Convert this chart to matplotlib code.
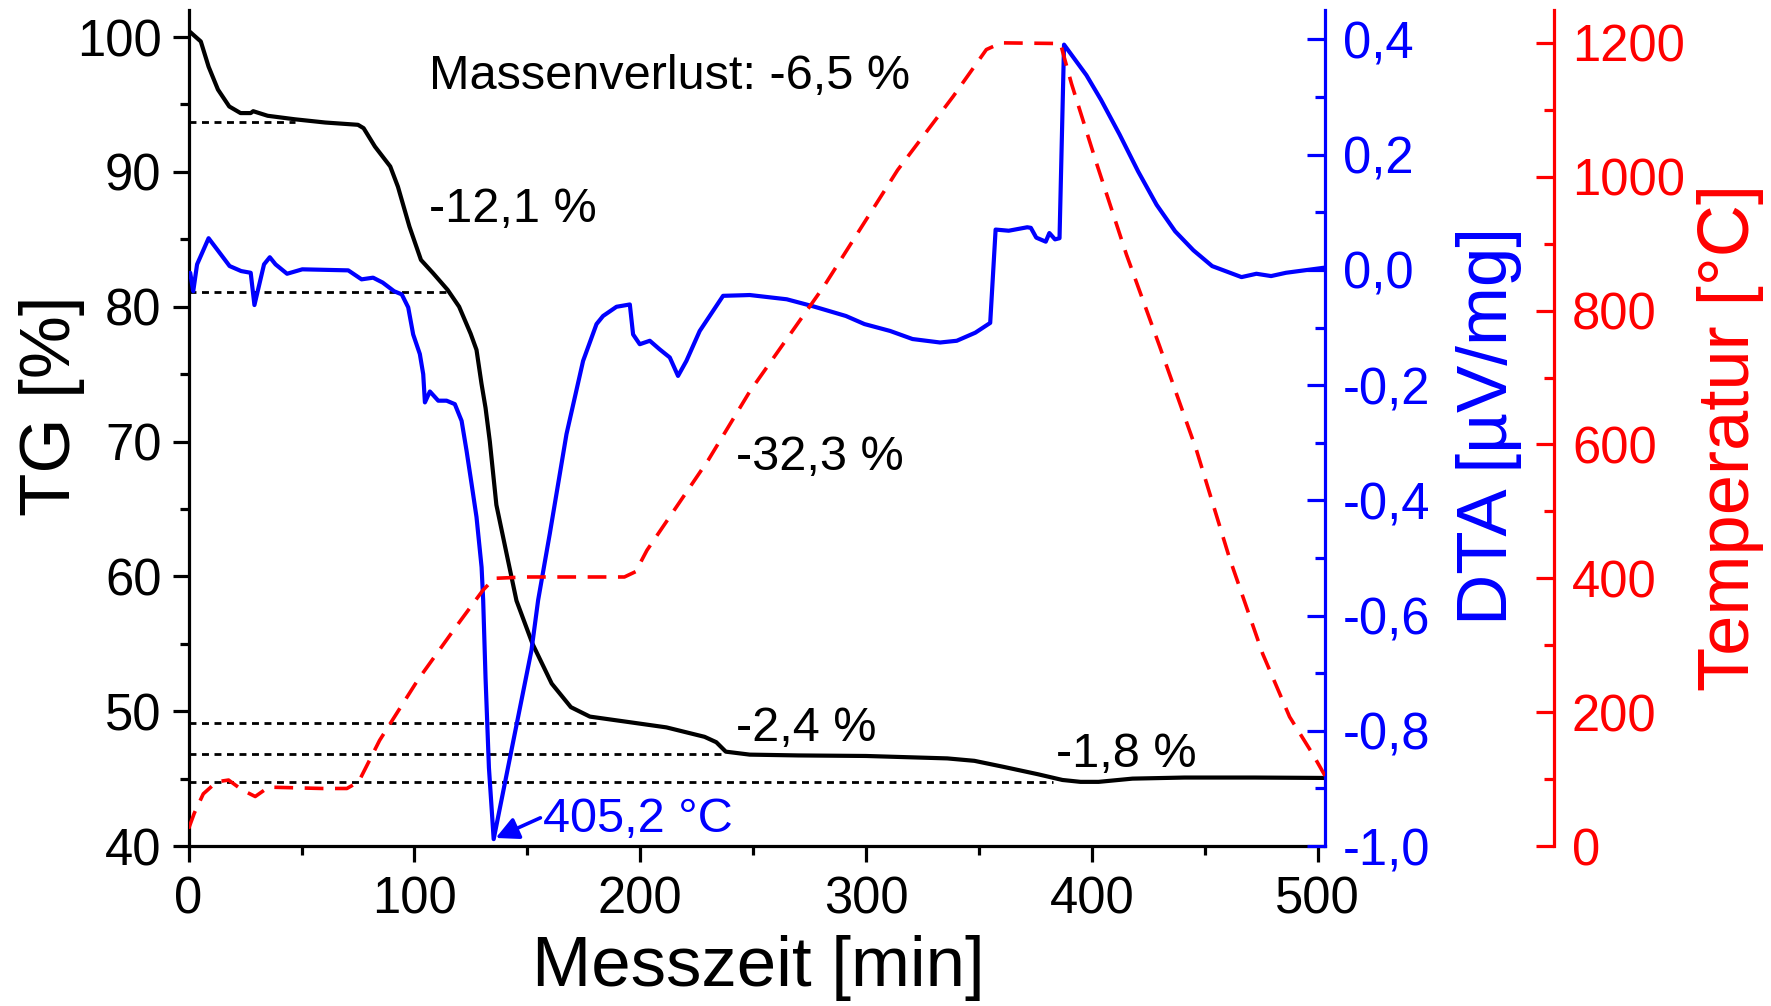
import matplotlib
matplotlib.use("Agg")
import matplotlib.pyplot as plt

plt.rcParams['font.family'] = ['Liberation Sans', 'DejaVu Sans']

# TG curve (black), Messzeit [min] vs TG [%]
tg_t = [0, 0.7, 2.5, 5.4, 8.85, 13, 18, 23, 27.5, 28.6, 35, 47, 60.5, 75, 77.5, 82.5,
        89.3, 92.7, 97.8, 102.9, 108.3, 114.7, 119.8, 124.9, 127.5, 129.7, 131.5, 133.4,
        136.3, 140.8, 145.2, 152.3, 160.8, 169.3, 177.7, 194.7, 211.6, 228.5, 233.7, 237.9,
        248.5, 270, 300, 336, 348, 361, 376, 387, 395, 403, 418, 441, 472, 503.3]
tg_v = [100.3, 100.37, 100.1, 99.67, 97.8, 96.1, 94.85, 94.36, 94.36, 94.5, 94.16, 93.9,
        93.66, 93.49, 93.24, 91.88, 90.4, 88.9, 85.94, 83.47, 82.48, 81.25, 80.0, 78.0, 76.8,
        74.3, 72.5, 70.0, 65.3, 61.7, 58.2, 55.0, 52.05, 50.3, 49.6, 49.2, 48.8, 48.1, 47.7,
        47.0, 46.78, 46.72, 46.68, 46.5, 46.32, 45.87, 45.33, 44.9, 44.76, 44.76, 45.0, 45.08,
        45.08, 45.05]

# DTA curve (blue) [µV/mg]
dta_t = [0, 0.7, 2.05, 3.75, 8.85, 13.1, 18.15, 23.25, 27.5, 29.15, 33.4, 35.95, 38.5, 43.6,
         50.35, 70.7, 76.6, 81.7, 85.95, 91, 94.4, 97.25, 99.45, 102.4, 103.9, 104.65, 106.85,
         110.55, 114.25, 117.9, 120.9, 123.1, 125.3, 127.5, 129.75, 130.45, 131.5, 133, 135.1,
         151.85, 154.8, 159.95, 167.35, 174.7, 180.65, 183.55, 189.5, 195.4, 196.85, 199.8,
         204.25, 208.65, 213.1, 216.75, 220.45, 226.35, 236.7, 245.55, 248.5, 264.9, 276.4,
         291.1, 299.3, 310.7, 320.6, 332.8, 340.2, 348.4, 355, 357.4, 363.2, 371.4, 373,
         375.4, 379.6, 381.2, 383.7, 385.7, 387.7, 397.6, 404.1, 412.3, 420.5, 428.7, 436.9,
         445, 453.3, 466.3, 472.9, 479.4, 486, 503.3]
dta_v = [-0.01, -0.005, -0.037, 0.0096, 0.055, 0.033, 0.0067, -0.002, -0.005, -0.061, 0.0096,
         0.022, 0.0096, -0.0067, 0.001, -0.0008, -0.0164, -0.0135, -0.022, -0.037, -0.0425,
         -0.065, -0.112, -0.146, -0.181, -0.230, -0.211, -0.227, -0.227, -0.233, -0.262, -0.314,
         -0.371, -0.429, -0.516, -0.573, -0.708, -0.864, -0.988, -0.660, -0.573, -0.458, -0.285,
         -0.158, -0.094, -0.080, -0.064, -0.060, -0.112, -0.129, -0.123, -0.138, -0.152, -0.184,
         -0.158, -0.106, -0.045, -0.044, -0.0436, -0.051, -0.063, -0.080, -0.094, -0.106,
         -0.120, -0.126, -0.123, -0.109, -0.092, 0.070, 0.068, 0.074, 0.073, 0.056, 0.049,
         0.064, 0.053, 0.055, 0.391, 0.338, 0.295, 0.235, 0.171, 0.113, 0.067, 0.034, 0.0066,
         -0.0125, -0.0067, -0.0107, -0.005, 0.004]

# Temperatur (red dashed) [°C]
temp_t = [0, 2.5, 6.5, 12.5, 17.7, 23.6, 29.5, 35.4, 59.2, 70.1, 75.3, 84.6, 101.5, 118.5,
          130.3, 135.4, 149.8, 193, 198, 203, 230.2, 248.5, 281.3, 314, 338.6, 353.3, 359.9,
          386.1, 391, 402, 415.3, 430, 446.3, 461, 475.7, 487.6, 497.9, 503.3]
temp_v = [26, 49, 78, 96, 98.6, 84, 74, 88, 86, 86, 96, 158, 248, 328, 382, 400, 402, 402,
          410, 442, 577, 679, 836, 1010, 1120, 1190, 1200, 1199, 1139, 1021, 884, 747, 592,
          430, 287, 193, 137, 105]

# Stufen (dotted lines): level and end time
step_levels = [93.7, 81.1, 49.15, 46.8, 44.75]
step_ends = [47, 115, 182, 238, 383]

tg_ticks = [40, 50, 60, 70, 80, 90, 100]
dta_ticks = [-1.0, -0.8, -0.6, -0.4, -0.2, 0.0, 0.2, 0.4]
dta_labels = ["-1,0", "-0,8", "-0,6", "-0,4", "-0,2", "0,0", "0,2", "0,4"]
temp_ticks = [0, 200, 400, 600, 800, 1000, 1200]
x_ticks = [0, 100, 200, 300, 400, 500]

BLUE, RED = "#0000ff", "#ff0000"

fig = plt.figure(figsize=(17.71, 10.06), dpi=100)
ax = fig.add_axes([0.1065, 0.159, 0.6417, 0.831])
ax2 = ax.twinx()
ax3 = ax.twinx()

for lv, te in zip(step_levels, step_ends):
    ax.plot([0, te], [lv, lv], color="black", lw=2.0, ls=(0, (2.5, 2.0)))
ax.plot(tg_t, tg_v, color="black", lw=3.0)
ax2.plot(dta_t, dta_v, color=BLUE, lw=3.0)
ax3.plot(temp_t, temp_v, color=RED, lw=2.6, ls=(0, (5.2, 3.2)))

ax.set_xlim(0, 503.3)
ax.set_ylim(40, 102)
ax2.set_ylim(-1.0, 0.451)
ax3.set_ylim(0, 1249)

ax.set_xticks(x_ticks)
ax.set_xticks(range(50, 501, 100), minor=True)
ax.set_yticks(tg_ticks)
ax.set_yticks(range(45, 100, 10), minor=True)
ax2.set_yticks(dta_ticks)
ax2.set_yticklabels(dta_labels)
ax2.set_yticks([-0.9, -0.7, -0.5, -0.3, -0.1, 0.1, 0.3], minor=True)
ax3.set_yticks(temp_ticks)
ax3.set_yticks(range(100, 1200, 200), minor=True)

for a in (ax, ax2, ax3):
    a.spines["top"].set_visible(False)
    for s in a.spines.values():
        s.set_linewidth(2.3)
ax.spines["right"].set_visible(False)
ax2.spines["left"].set_visible(False)
ax2.spines["bottom"].set_visible(False)
ax3.spines["left"].set_visible(False)
ax3.spines["bottom"].set_visible(False)
ax2.spines["right"].set_color(BLUE)
ax3.spines["right"].set_color(RED)
ax3.spines["right"].set_position(("axes", 1.2013))

ax.tick_params(axis="both", which="major", direction="out", length=11.5, width=2.3,
               labelsize=36.5, colors="black")
ax.tick_params(axis="both", which="minor", direction="out", length=6.5, width=2.3)
ax.tick_params(axis="x", which="major", pad=10)
ax.tick_params(axis="y", which="major", pad=8)
ax2.tick_params(axis="y", which="major", direction="in", length=13, width=2.3,
                labelsize=36.5, colors=BLUE, pad=13)
ax2.tick_params(axis="y", which="minor", direction="in", length=7, width=2.3, colors=BLUE)
ax3.tick_params(axis="y", which="major", direction="in", length=13, width=2.3,
                labelsize=36.5, colors=RED, pad=13)
ax3.tick_params(axis="y", which="minor", direction="in", length=7, width=2.3, colors=RED)

# Beschriftungen
fs = 35
ax.text(106.5, 97.07, "Massenverlust: -6,5 %", fontsize=fs, va="center", ha="left")
ax.text(106.5, 87.18, "-12,1 %", fontsize=fs, va="center", ha="left")
ax.text(242.5, 68.83, "-32,3 %", fontsize=fs, va="center", ha="left")
ax.text(242.5, 48.72, "-2,4 %", fontsize=fs, va="center", ha="left")
ax.text(384, 46.8, "-1,8 %", fontsize=fs, va="center", ha="left")
ax3.text(157, 41.94, "405,2 °C", fontsize=fs, va="center", ha="left", color=BLUE,
         transform=ax.transData)
ax2.annotate("", xy=(136, -0.986), xytext=(155.8, -0.951),
             arrowprops=dict(arrowstyle="-|>", color=BLUE, lw=2.6, mutation_scale=34,
                             shrinkA=0, shrinkB=0))

fig.text(0.0294, 0.597, "TG [%]", fontsize=51, rotation=90, ha="center", va="center")
fig.text(0.428, 0.038, "Messzeit [min]", fontsize=51, ha="center", va="center")
fig.text(0.841, 0.5763, "DTA [µV/mg]", fontsize=51, rotation=90, ha="center", va="center",
         color=BLUE)
fig.text(0.9774, 0.5649, "Temperatur [°C]", fontsize=52, rotation=90, ha="center",
         va="center", color=RED)

fig.savefig("out.png", dpi=100)
